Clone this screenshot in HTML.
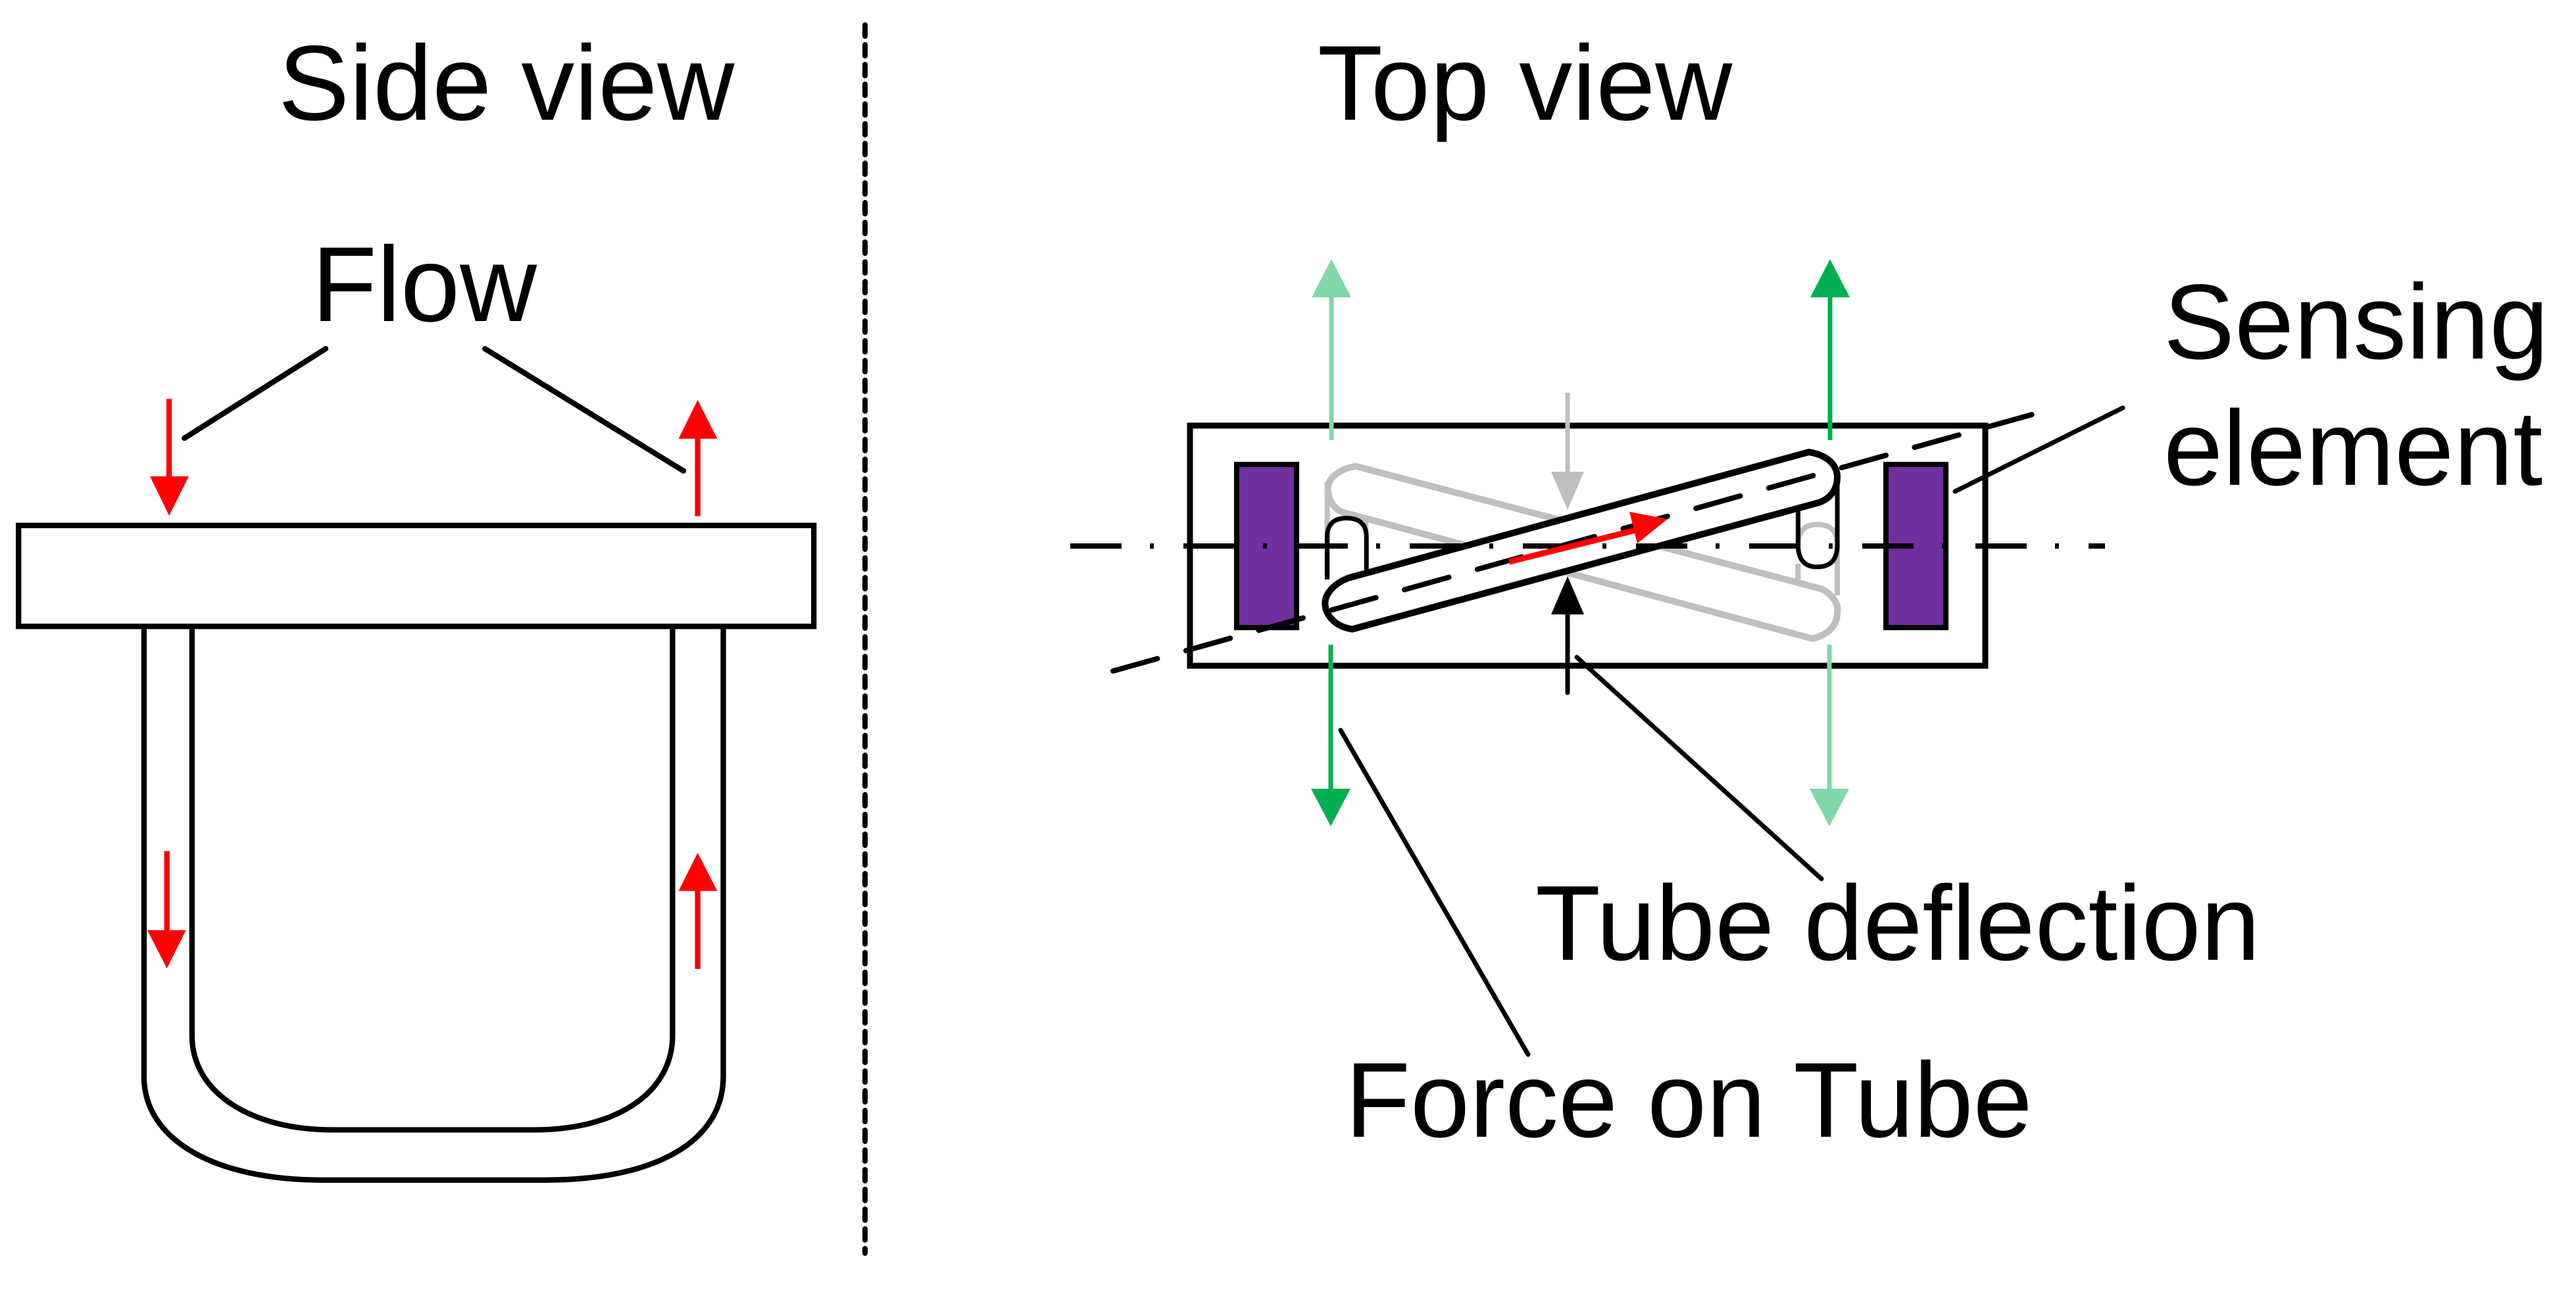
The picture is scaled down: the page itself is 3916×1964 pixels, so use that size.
<!DOCTYPE html>
<html><head><meta charset="utf-8"><style>
html,body{margin:0;padding:0;background:#fff;}
svg{display:block;}
text{font-family:"Liberation Sans",Arial,sans-serif;font-size:162px;fill:#000;}
</style></head><body>
<svg width="3916" height="1964" viewBox="0 0 3916 1964" xmlns="http://www.w3.org/2000/svg">
<rect width="3916" height="1964" fill="#fff"/>
<!-- texts -->
<text x="423" y="182">Side view</text>
<text x="474" y="488">Flow</text>
<text x="2003" y="182">Top view</text>
<text x="3289" y="545">Sensing</text>
<text x="3289" y="737">element</text>
<text x="2334" y="1459">Tube deflection</text>
<text x="2045" y="1728">Force on Tube</text>
<!-- divider -->
<line x1="1315" y1="38" x2="1315" y2="1905" stroke="#000" stroke-width="8" stroke-dasharray="17 13" stroke-linecap="round"/>
<!-- side view -->
<g transform="translate(0,550) scale(0.8292)" fill="none" stroke="#000" stroke-width="10">
<rect x="34" y="300" width="1458" height="185" fill="#fff"/>
<path d="M264,485 L264,1310 C264,1430 400,1500 590,1500 L1000,1500 C1200,1500 1326,1430 1326,1310 L1326,485"/>
<path d="M352,485 L352,1235 C352,1340 460,1408 610,1408 L980,1408 C1130,1408 1233,1340 1233,1235 L1233,485"/>
<line x1="338" y1="140" x2="597" y2="-24" stroke-linecap="round"/>
<line x1="1253" y1="200" x2="889" y2="-24" stroke-linecap="round"/>
<g stroke="#f00" stroke-width="10">
<line x1="310" y1="68" x2="310" y2="215"/>
<line x1="1279" y1="283" x2="1279" y2="138"/>
<line x1="306" y1="897" x2="306" y2="1045"/>
<line x1="1279" y1="1113" x2="1279" y2="968"/>
</g>
<g fill="#f00" stroke="none">
<polygon points="275,210 346,210 310,282"/>
<polygon points="1244,141 1315,141 1279,70"/>
<polygon points="270,1042 341,1042 306,1112"/>
<polygon points="1244,970 1315,970 1279,900"/>
</g>
</g>
<!-- top view -->
<rect x="1809" y="647" width="1209" height="365" fill="#fff" stroke="#000" stroke-width="9"/>
<rect x="1880" y="706" width="91" height="248" fill="#7030a0" stroke="#000" stroke-width="8"/>
<rect x="2867" y="706" width="91" height="248" fill="#7030a0" stroke="#000" stroke-width="8"/>
<!-- arrows -->
<line x1="2024" y1="669" x2="2024" y2="445" stroke="#80d8a8" stroke-width="7"/>
<polygon points="1994,452 2054,452 2024,394" fill="#80d8a8"/>
<line x1="2782" y1="669" x2="2782" y2="445" stroke="#00b050" stroke-width="7"/>
<polygon points="2752,452 2812,452 2782,394" fill="#00b050"/>
<line x1="2023" y1="980" x2="2023" y2="1205" stroke="#00b050" stroke-width="7"/>
<polygon points="1993,1199 2053,1199 2023,1256" fill="#00b050"/>
<line x1="2781" y1="980" x2="2781" y2="1205" stroke="#80d8a8" stroke-width="7"/>
<polygon points="2751,1199 2811,1199 2781,1256" fill="#80d8a8"/>
<line x1="2383" y1="597" x2="2383" y2="722" stroke="#bfbfbf" stroke-width="7"/>
<polygon points="2358,717 2408,717 2383,775" fill="#bfbfbf"/>
<!-- tubes (in zoom coords) -->
<g transform="translate(1600,350) scale(1.08459,0.47829)" fill="none">
<path d="M385,800 L385,1100" stroke="#bfbfbf" stroke-width="8" vector-effect="non-scaling-stroke"/>
<path d="M440,920 L440,1080" stroke="#bfbfbf" stroke-width="6" vector-effect="non-scaling-stroke"/>
<path d="M1045,1060 L1045,1110 M1100,1000 L1100,1160 M1045,1000 Q1045,935 1072,935 Q1100,935 1100,1000" stroke="#bfbfbf" stroke-width="8" vector-effect="non-scaling-stroke"/>
<path d="M425,750 L1078,1140 C1095,1160 1102,1190 1100,1215 C1100,1250 1090,1285 1065,1298 L405,895 C392,880 386,850 386,820 C386,790 400,760 425,750 Z" fill="#fff" stroke="#bfbfbf" stroke-width="10" vector-effect="non-scaling-stroke"/>
<path d="M1060,705 C1088,715 1100,750 1100,785 C1100,820 1092,850 1075,865 L420,1268 C395,1260 382,1220 382,1185 C382,1160 392,1125 415,1105 Z" fill="#fff" stroke="#000" stroke-width="10" vector-effect="non-scaling-stroke"/>
<path d="M385,1110 L385,975 Q385,915 412,915 Q440,915 440,975 L440,1080" stroke="#000" stroke-width="7" vector-effect="non-scaling-stroke"/>
<path d="M1045,890 L1045,1000 Q1045,1070 1072,1070 Q1100,1070 1100,1000 L1100,780" stroke="#000" stroke-width="7" vector-effect="non-scaling-stroke"/>
</g>
<!-- center dash-dot line -->
<line x1="1627" y1="830" x2="3200" y2="830" stroke="#000" stroke-width="8" stroke-dasharray="78 43 6 45"/>
<!-- sensing dashed axis -->
<line x1="1692" y1="1020" x2="3129" y2="619" stroke="#000" stroke-width="8" stroke-dasharray="70 45" stroke-linecap="round"/>
<!-- red flow arrow -->
<line x1="2294" y1="854" x2="2486" y2="806" stroke="#f00" stroke-width="9"/>
<polygon points="2477,778 2535,789 2489,826" fill="#f00"/>
<!-- black arrow -->
<line x1="2383" y1="1053" x2="2383" y2="930" stroke="#000" stroke-width="7" stroke-linecap="round"/>
<polygon points="2358,934 2408,934 2383,876" fill="#000"/>
<!-- leaders -->
<g stroke="#000" stroke-width="7" stroke-linecap="round">
<line x1="2972" y1="747" x2="3227" y2="620"/>
<line x1="2397" y1="999" x2="2769" y2="1336"/>
<line x1="2038" y1="1110" x2="2323" y2="1603"/>
</g>
</svg>
</body></html>
